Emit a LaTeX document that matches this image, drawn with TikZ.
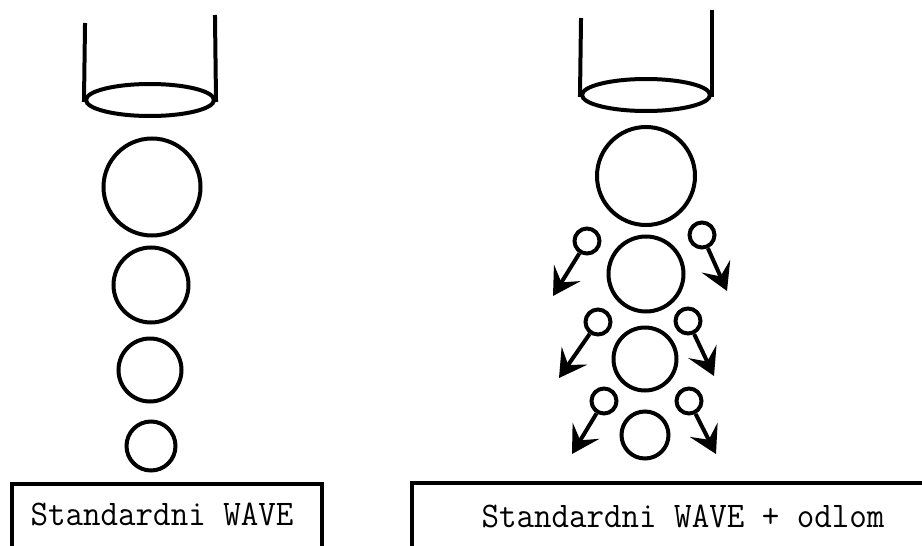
\documentclass[tikz,border=0pt]{standalone}
\usetikzlibrary{shapes.geometric,arrows.meta}
\begin{document}
\begin{tikzpicture}[x=1pt,y=-1pt,
  ink/.style={line width=4pt,black},
  drop/.style={circle,draw,ink,inner sep=0pt,minimum size=#1},
  mouth/.style={ellipse,draw,ink,inner sep=0pt,minimum width=128pt,minimum height=32pt},
  wall/.style={ink,line cap=rect},
  spray/.style={ink,-{Stealth[length=27pt,width=31pt,inset=11pt]}},
  caption/.style={font=\ttfamily\fontsize{34}{34}\selectfont,yscale=1.06,transform shape,anchor=base,inner sep=0pt},
  frame/.style={draw,line width=4pt}]
\useasboundingbox (0,0) rectangle (922,546);

% left nozzle and its drops
\node[mouth] (m1) at (150,100) {};
\coordinate (w1a) at (85,25);
\coordinate (w1b) at (215,17);
\draw[wall] (m1.west) -- (w1a);
\draw[wall] (m1.east) -- (w1b);
\node[drop=97pt] (a1) at (152,187) {};
\node[drop=75pt] (a2) at (151,285) {};
\node[drop=63pt] (a3) at (150,370) {};
\node[drop=49pt] (a4) at (151,446) {};

% right nozzle, main drops and satellites
\node[mouth] (m2) at (646,95) {};
\coordinate (w2a) at (581,20);
\coordinate (w2b) at (712,12);
\draw[wall] (m2.west) -- (w2a);
\draw[wall] (m2.east) -- (w2b);
\node[drop=98pt] (b1) at (646,176) {};
\node[drop=75pt] (b2) at (646,274) {};
\node[drop=63pt] (b3) at (645,359) {};
\node[drop=47pt] (b4) at (645,435) {};

\node[drop=25pt] (s1l) at (587,241) {};
\node[drop=25pt] (s1r) at (702,235) {};
\node[drop=25pt] (s2l) at (598,322) {};
\node[drop=25pt] (s2r) at (688,321) {};
\node[drop=25pt] (s3l) at (604,401) {};
\node[drop=25pt] (s3r) at (689,401) {};

\coordinate (t1l) at (553,296);
\coordinate (t1r) at (727,291);
\coordinate (t2l) at (559,378);
\coordinate (t2r) at (714,376);
\coordinate (t3l) at (572,454);
\coordinate (t3r) at (716,454);

\draw[spray] (s1l) -- (t1l);
\draw[spray] (s1r) -- (t1r);
\draw[spray] (s2l) -- (t2l);
\draw[spray] (s2r) -- (t2r);
\draw[spray] (s3l) -- (t3l);
\draw[spray] (s3r) -- (t3r);

% captions
\draw[frame] (12,484) rectangle (322,560);
\draw[frame] (412,483) rectangle (935,560);
\node[caption] (c1) at (162,525) {Standardni WAVE};
\node[caption] (c2) at (683,527) {Standardni WAVE + odlom};
\end{tikzpicture}
\end{document}
